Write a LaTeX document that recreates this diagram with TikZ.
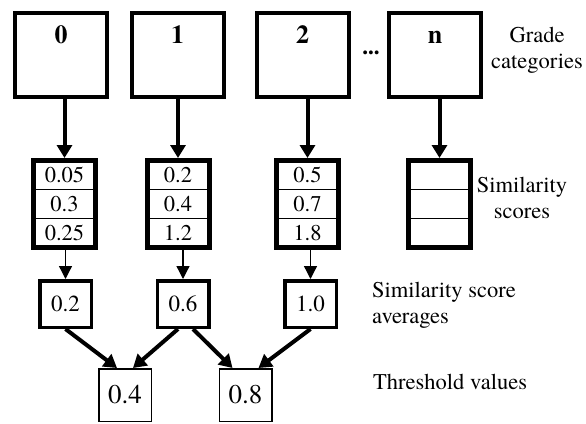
\documentclass[tikz,border=0pt]{standalone}
\usepackage{fontspec}
\setmainfont{TeX Gyre Termes}
\usetikzlibrary{arrows.meta,positioning,fit}

\begin{document}
\begin{tikzpicture}[x=1pt,y=-1pt,
  catbox/.style={draw,line width=4pt,minimum width=92pt,minimum height=84pt,inner sep=0pt},
  catlabel/.style={anchor=base,inner sep=0pt,font=\bfseries\fontsize{26}{30}\selectfont},
  cell/.style={draw,line width=1.2pt,minimum width=62pt,minimum height=29pt,inner sep=0pt,outer sep=0pt,font=\fontsize{22.5}{26}\selectfont},
  frame/.style={draw,line width=5pt,inner sep=0pt},
  avgbox/.style={draw,line width=3.5pt,minimum width=51.5pt,minimum height=46.5pt,inner sep=0pt,font=\fontsize{23}{27}\selectfont},
  thrbox/.style={draw,line width=1.5pt,minimum width=52.5pt,minimum height=52.5pt,inner sep=0pt,font=\fontsize{27}{31}\selectfont},
  caption/.style={inner sep=0pt,font=\fontsize{22.5}{26}\selectfont},
  bigarrow/.style={line width=4pt,-{Triangle[length=13pt,width=15pt]}},
  smallarrow/.style={line width=1.3pt,-{Triangle[length=13pt,width=13pt]}}]

  \useasboundingbox (0,0) rectangle (586,423);

  % grade categories
  \node[catbox] (cat0) at (61,55) {};
  \node[catbox] (cat1) at (177.5,55) {};
  \node[catbox] (cat2) at (302.5,55) {};
  \node[catbox] (catn) at (435,55) {};
  \node[catlabel] (lab0) at (61,43) {0};
  \node[catlabel] (lab1) at (177.5,43) {1};
  \node[catlabel] (lab2) at (302.5,43) {2};
  \node[catlabel] (labn) at (435,43) {n};
  \node[inner sep=0pt,font=\bfseries\fontsize{23}{26}\selectfont] (dots) at (371,53) {...};
  \node[caption,align=center] (gradetext) at (537,50) {Grade\\categories};

  % similarity scores
  \node[cell] (s0a) at (64.5,175) {0.05};
  \node[cell,below=0pt of s0a] (s0b) {0.3};
  \node[cell,below=0pt of s0b] (s0c) {0.25};
  \node[frame,fit=(s0a)(s0c)] (s0) {};

  \node[cell] (s1a) at (178,175) {0.2};
  \node[cell,below=0pt of s1a] (s1b) {0.4};
  \node[cell,below=0pt of s1b] (s1c) {1.2};
  \node[frame,fit=(s1a)(s1c)] (s1) {};

  \node[cell] (s2a) at (307.5,175) {0.5};
  \node[cell,below=0pt of s2a] (s2b) {0.7};
  \node[cell,below=0pt of s2b] (s2c) {1.8};
  \node[frame,fit=(s2a)(s2c)] (s2) {};

  \node[cell] (sna) at (439.5,175) {};
  \node[cell,below=0pt of sna] (snb) {};
  \node[cell,below=0pt of snb] (snc) {};
  \node[frame,fit=(sna)(snc)] (sn) {};
  \node[caption,align=center] (scoretext) at (522,198) {Similarity\\scores};

  \draw[bigarrow] (s0.north |- cat0.south) -- (s0.north);
  \draw[bigarrow] (s1.north |- cat1.south) -- (s1.north);
  \draw[bigarrow] (s2.north |- cat2.south) -- (s2.north);
  \draw[bigarrow] (sn.north |- catn.south) -- (sn.north);

  % averages
  \node[avgbox] (avg0) at (65.5,304) {0.2};
  \node[avgbox] (avg1) at (183,304) {0.6};
  \node[avgbox] (avg2) at (310.5,304) {1.0};
  \node[caption,align=left,anchor=west] (avgtext) at (372,305) {Similarity score\\averages};

  \draw[smallarrow] (avg0.north |- s0.south) -- (avg0.north);
  \draw[smallarrow] (avg1.north |- s1.south) -- (avg1.north);
  \draw[smallarrow] (avg2.north |- s2.south) -- (avg2.north);

  % thresholds
  \node[thrbox] (thr0) at (125,395) {0.4};
  \node[thrbox] (thr1) at (245.5,395) {0.8};
  \node[caption,anchor=west] (thrtext) at (373,382) {Threshold values};

  \draw[bigarrow] (avg0.south) -- ([xshift=-8pt]thr0.north);
  \draw[bigarrow] ([xshift=-5pt]avg1.south) -- ([xshift=8pt]thr0.north);
  \draw[bigarrow] ([xshift=10pt]avg1.south) -- ([xshift=-13pt]thr1.north);
  \draw[bigarrow] (avg2.south) -- ([xshift=13pt]thr1.north);
\end{tikzpicture}
\end{document}
